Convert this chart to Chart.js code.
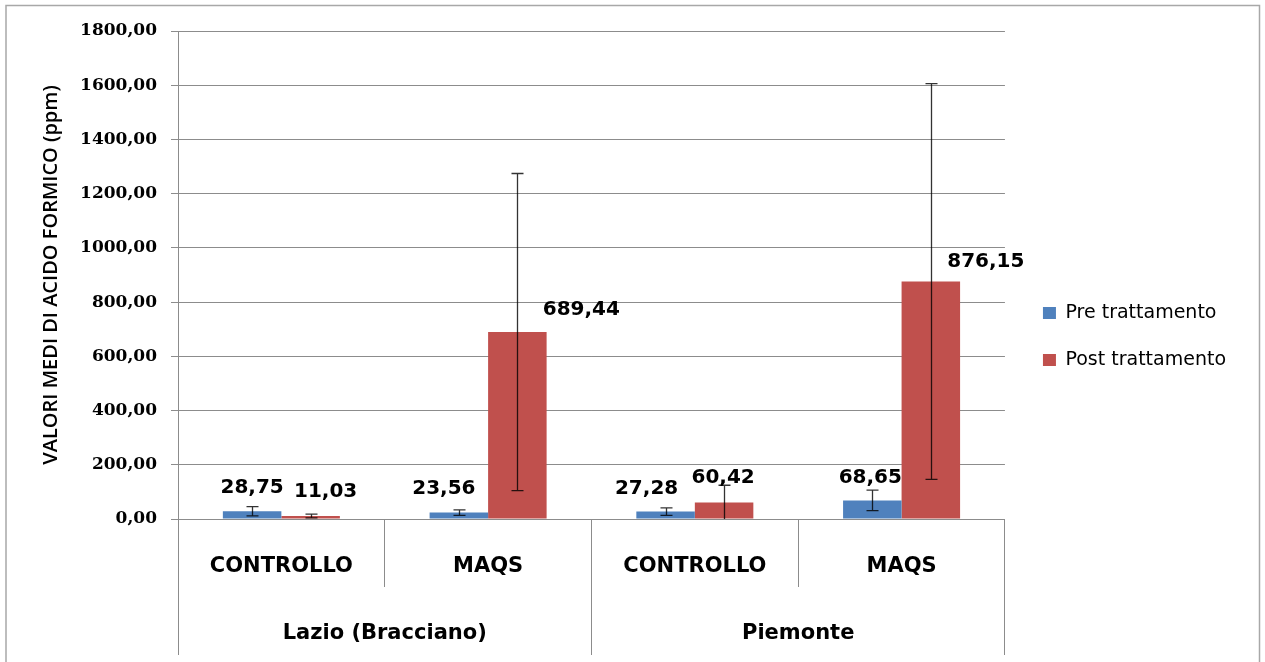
<!DOCTYPE html>
<html><head><meta charset="utf-8">
<script src="https://cdn.jsdelivr.net/npm/chart.js@4/dist/chart.umd.min.js"></script>
<style>html,body{margin:0;padding:0;background:#fff}#wrap{width:1265px;height:662px;position:relative}</style>
</head><body><div id="wrap"><canvas id="c"></canvas></div>
<script>
// ---- data ----
const categories = ['CONTROLLO', 'MAQS', 'CONTROLLO', 'MAQS'];
const regions = ['Lazio (Bracciano)', 'Piemonte'];
const seriesNames = ['Pre trattamento', 'Post trattamento'];
const preValues = [28.75, 23.56, 27.28, 68.65];
const postValues = [11.03, 689.44, 60.42, 876.15];
const preErrors = [17, 10, 14, 38];
const postErrors = [7, 585, 64, 730];
const yTickValues = [0, 200, 400, 600, 800, 1000, 1200, 1400, 1600, 1800];
const yTickLabels = ['0,00', '200,00', '400,00', '600,00', '800,00', '1000,00', '1200,00', '1400,00', '1600,00', '1800,00'];

// ---- label placement (pixel offsets from the bar top) ----
const preLabelOffsets = [[0, -26], [-15, -26], [-19, -25], [-2, -25]];
const postLabelOffsets = [[15, -26], [64, -24], [-1, -27], [55, -22]];

const GRID = '#8c8c8c';
const fmt = v => v.toFixed(2).replace('.', ',');

const frame = {
  id: 'frame',
  beforeDraw(chart) {
    const ctx = chart.ctx;
    ctx.save();
    ctx.fillStyle = '#fff';
    ctx.fillRect(0, 0, chart.width, chart.height);
    ctx.strokeStyle = '#a8a8a8';
    ctx.lineWidth = 1.5;
    ctx.strokeRect(6, 5.5, 1253.5, 700);
    ctx.restore();
  }
};

const legendShift = {
  id: 'legendShift',
  afterLayout(chart) {
    const l = chart.legend;
    const dx = 10, dy = -10;
    l.left += dx; l.right += dx; l.top += dy; l.bottom += dy;
  }
};

const errorBars = {
  id: 'errorBars',
  afterDatasetsDraw(chart) {
    const ctx = chart.ctx;
    const ys = chart.scales.y;
    const errs = [preErrors, postErrors];
    ctx.save();
    ctx.strokeStyle = 'rgba(0,0,0,0.8)';
    ctx.lineWidth = 1.3;
    chart.data.datasets.forEach((ds, di) => {
      const meta = chart.getDatasetMeta(di);
      meta.data.forEach((bar, i) => {
        const v = ds.data[i], e = errs[di][i];
        const x = Math.round(bar.x) + 0.5;
        const yTop = ys.getPixelForValue(v + e);
        const yBot = ys.getPixelForValue(Math.max(v - e, 0));
        ctx.beginPath();
        ctx.moveTo(x, yTop); ctx.lineTo(x, yBot);
        ctx.moveTo(x - 6, yTop); ctx.lineTo(x + 6, yTop);
        if (v - e > 0) { ctx.moveTo(x - 6, yBot); ctx.lineTo(x + 6, yBot); }
        ctx.stroke();
      });
    });
    ctx.restore();
  }
};

const dataLabels = {
  id: 'dataLabels',
  afterDatasetsDraw(chart) {
    const ctx = chart.ctx;
    const offs = [preLabelOffsets, postLabelOffsets];
    ctx.save();
    ctx.font = 'bold 20px "DejaVu Sans"';
    ctx.fillStyle = '#000';
    ctx.textAlign = 'center';
    ctx.textBaseline = 'alphabetic';
    chart.data.datasets.forEach((ds, di) => {
      const meta = chart.getDatasetMeta(di);
      meta.data.forEach((bar, i) => {
        const [dx, dy] = offs[di][i];
        ctx.fillText(fmt(ds.data[i]), bar.x + dx, bar.y + dy + 7.3);
      });
    });
    ctx.restore();
  }
};

new Chart(document.getElementById('c'), {
  type: 'bar',
  data: {
    labels: categories,
    datasets: [
      { label: seriesNames[0], data: preValues, backgroundColor: '#4F81BD', borderWidth: 0 },
      { label: seriesNames[1], data: postValues, backgroundColor: '#C0504D', borderWidth: 0 }
    ]
  },
  options: {
    responsive: true,
    maintainAspectRatio: false,
    animation: false,
    datasets: { bar: { categoryPercentage: 0.566, barPercentage: 1.0 } },
    layout: { padding: { top: 31, left: 0, right: 39, bottom: 0 } },
    plugins: {
      tooltip: { enabled: false },
      legend: {
        position: 'right',
        labels: {
          boxWidth: 13, boxHeight: 12, padding: 28,
          color: '#000',
          font: { family: '"DejaVu Sans"', size: 19 }
        }
      }
    },
    scales: {
      y: {
        min: 0, max: 1800,
        afterBuildTicks: s => { s.ticks = yTickValues.map(v => ({ value: v })); },
        afterFit: s => { s.width = 178; },
        grid: { color: GRID, lineWidth: 1, tickLength: 7, drawTicks: true },
        border: { display: true, color: GRID },
        ticks: {
          padding: 14, color: '#000',
          font: { family: '"DejaVu Serif"', size: 17, weight: 'bold' },
          callback: (v, i) => yTickLabels[yTickValues.indexOf(v)]
        },
        title: {
          display: true, text: 'VALORI MEDI DI ACIDO FORMICO (ppm)', color: '#000',
          font: { family: '"Open Sans"', size: 20, weight: '600' },
          padding: { top: 39, bottom: 0 }
        }
      },
      x: {
        type: 'category',
        offset: true,
        afterFit: s => { s.height = 68; },
        grid: { display: true, drawOnChartArea: false, drawTicks: true, tickLength: 68, color: GRID, offset: true },
        border: { display: true, color: GRID },
        ticks: {
          padding: -33, color: '#000', maxRotation: 0, autoSkip: false,
          font: { family: '"DejaVu Sans"', size: 21, weight: 'bold' }
        }
      },
      x2: {
        type: 'category',
        labels: regions,
        position: 'bottom',
        offset: true,
        afterFit: s => { s.height = 75; },
        grid: { display: true, drawOnChartArea: false, drawTicks: true, tickLength: 68, color: GRID, offset: true },
        border: { display: false },
        ticks: {
          padding: -34, color: '#000', maxRotation: 0, autoSkip: false,
          font: { family: '"DejaVu Sans"', size: 21, weight: 'bold' }
        }
      }
    }
  },
  plugins: [frame, legendShift, errorBars, dataLabels]
});
</script>
</body></html>
